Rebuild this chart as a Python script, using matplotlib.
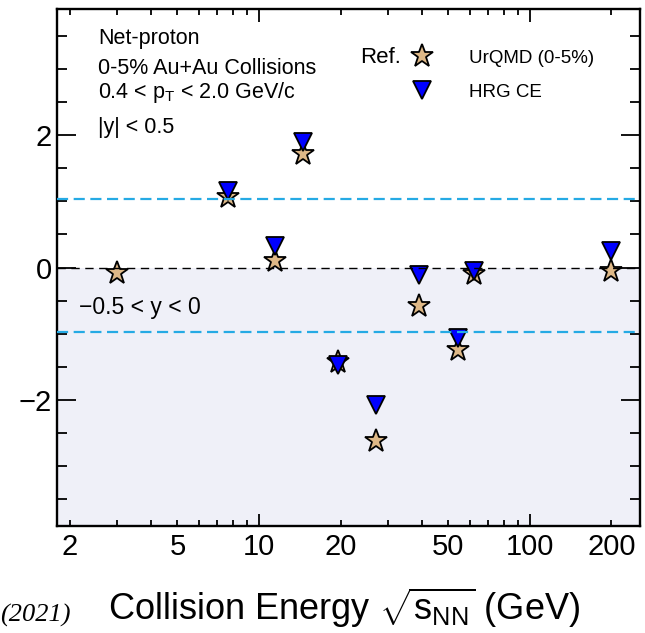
import matplotlib
matplotlib.use("Agg")
import matplotlib.pyplot as plt
from matplotlib.ticker import FixedLocator, FixedFormatter
from matplotlib.lines import Line2D

plt.rcParams['font.family'] = ['Liberation Sans', 'DejaVu Sans']
plt.rcParams['mathtext.fontset'] = 'custom'
plt.rcParams['mathtext.rm'] = 'Liberation Sans'
plt.rcParams['mathtext.it'] = 'Liberation Sans:italic'
plt.rcParams['mathtext.bf'] = 'Liberation Sans:bold'

# collision energies (GeV) and values
urqmd_energy = [3.0, 7.7, 11.5, 14.5, 19.6, 27, 39, 54.4, 62.4, 200]
urqmd_value = [-0.08, 1.07, 0.10, 1.72, -1.42, -2.62, -0.58, -1.24, -0.10, -0.05]
hrg_energy = [7.7, 11.5, 14.5, 19.6, 27, 39, 54.4, 62.4, 200]
hrg_value = [1.15, 0.33, 1.90, -1.47, -2.07, -0.11, -1.07, -0.05, 0.25]

band_levels = [1.03, -0.98]
x_major = [10, 100]
x_major_labels = ['10', '100']
x_minor = [2, 3, 4, 5, 6, 7, 8, 9, 20, 30, 40, 50, 60, 70, 80, 90, 200]
x_minor_labels = ['2', '', '', '5', '', '', '', '', '20', '', '', '50', '', '', '', '', '200']
y_major = [-2, 0, 2]
y_minor = [-3.5, -3, -2.5, -1.5, -1, -0.5, 0.5, 1, 1.5, 2.5, 3, 3.5]
xlim = (1.8, 255)
ylim = (-3.9, 3.9)

fig = plt.figure(figsize=(6.45, 6.33), dpi=100)
ax = fig.add_axes([0.0888, 0.1695, 0.9035, 0.8158])

ax.set_xscale('log')
ax.set_xlim(*xlim)
ax.set_ylim(*ylim)

# shaded lower half
ax.axhspan(ylim[0], 0, color='#eff0f8', zorder=0, lw=0)

ax.plot(urqmd_energy, urqmd_value, ls='none', marker='*', ms=17,
        mfc='#deb887', mec='black', mew=1.3, zorder=3)
ax.plot(hrg_energy, hrg_value, ls='none', marker='v', ms=13,
        mfc='#0000ff', mec='black', mew=1.3, zorder=4)

ax.axhline(0, color='black', ls=(0, (6, 4)), lw=1.0, zorder=5)
for lv in band_levels:
    ax.axhline(lv, color='#25aae4', ls=(0, (5, 2.5)), lw=1.6, zorder=5)

for s in ax.spines.values():
    s.set_linewidth(1.7)

ax.xaxis.set_major_locator(FixedLocator(x_major))
ax.xaxis.set_major_formatter(FixedFormatter(x_major_labels))
ax.xaxis.set_minor_locator(FixedLocator(x_minor))
ax.xaxis.set_minor_formatter(FixedFormatter(x_minor_labels))
ax.yaxis.set_major_locator(FixedLocator(y_major))
ax.yaxis.set_minor_locator(FixedLocator(y_minor))

ax.tick_params(axis='x', which='major', direction='in', top=True, length=9, width=1.3,
               labelsize=21, pad=5)
ax.tick_params(axis='x', which='minor', direction='in', top=True, length=4.5, width=1.3,
               labelsize=21, pad=5)
ax.tick_params(axis='y', which='major', direction='in', right=True, length=14, width=1.3,
               labelsize=21, pad=4)
ax.tick_params(axis='y', which='minor', direction='in', right=True, length=7, width=1.3)

tk = dict(transform=ax.transAxes, fontsize=15.5, va='center', ha='left')
ax.text(0.070, 0.944, 'Net-proton', **tk)
ax.text(0.070, 0.886, '0-5% Au+Au Collisions', **tk)
ax.text(0.070, 0.838, r'0.4 < p$_\mathregular{T}$ < 2.0 GeV/c', **tk)
ax.text(0.070, 0.772, '|y| < 0.5', **tk)
ax.text(0.037, 0.4216, '\u22120.5 < y < 0', transform=ax.transAxes, fontsize=16.5,
        va='center', ha='left')
ax.text(0.520, 0.907, 'Ref.', transform=ax.transAxes, fontsize=16, va='center', ha='left')

handles = [
    Line2D([], [], ls='none', marker='*', ms=17, mfc='#deb887', mec='black', mew=1.3),
    Line2D([], [], ls='none', marker='v', ms=13, mfc='#0000ff', mec='black', mew=1.3),
]
ax.legend(handles, ['UrQMD (0-5%)', 'HRG CE'], loc='upper left',
          bbox_to_anchor=(0.607, 0.922), frameon=False, fontsize=13.5,
          handlelength=1.2, handletextpad=1.9, labelspacing=0.9, borderpad=0,
          borderaxespad=0)

fig.text(108 / 645, 1 - 620 / 633,
         r'Collision Energy $\sqrt{\mathregular{s}_\mathregular{NN}}$ (GeV)',
         fontsize=26, ha='left', va='baseline')
fig.text(0.0, 1 - 622 / 633, '(2021)', fontsize=19, family='Liberation Serif',
         style='italic', ha='left', va='baseline')

fig.savefig('out.png', dpi=100)
